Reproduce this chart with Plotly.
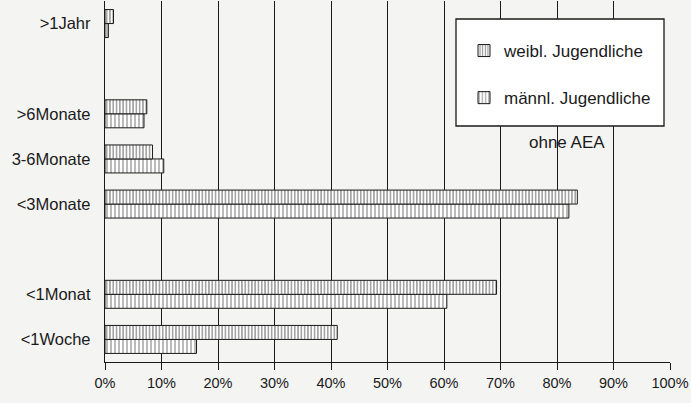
import plotly.graph_objects as go

# Categories listed bottom-to-top (blank slots are empty categories in the original)
categories = ["<1Woche", "<1Monat", " ", "<3Monate", "3-6Monate", ">6Monate", "  ", ">1Jahr"]
weibl = [41.1, 69.3, None, 83.6, 8.4, 7.4, None, 1.5]
maennl = [16.2, 60.5, None, 82.1, 10.4, 6.9, None, 0.6]
x_ticks = [0, 10, 20, 30, 40, 50, 60, 70, 80, 90, 100]
x_labels = [f"{v}%" for v in x_ticks]

FONT = "Liberation Sans, Arial, Helvetica, sans-serif"
INK = "#1a1a1a"
BG = "#f4f4f3"

fig = go.Figure()
fig.add_trace(go.Bar(
    y=categories, x=maennl, orientation="h", name="männl. Jugendliche",
    legendgroup="m", legendrank=2,
    marker=dict(color="white", line=dict(color=INK, width=1),
                pattern=dict(shape="|", fgcolor=INK, bgcolor="white", size=4, solidity=0.3)),
))
fig.add_trace(go.Bar(
    y=categories, x=weibl, orientation="h", name="weibl. Jugendliche",
    legendgroup="w", legendrank=1,
    marker=dict(color="white", line=dict(color=INK, width=1),
                pattern=dict(shape="|", fgcolor=INK, bgcolor="white", size=3.3, solidity=0.4)),
))

fig.update_layout(
    width=691, height=403,
    margin=dict(l=105, r=21, t=1, b=41, autoexpand=False),
    paper_bgcolor=BG, plot_bgcolor=BG,
    font=dict(family=FONT, color=INK, size=15),
    barmode="group", bargap=0.38, bargroupgap=0,
    showlegend=True,
    legend=dict(
        xref="paper", yref="paper", x=(464 - 105) / 565, y=1 - (33 - 1) / 361,
        xanchor="left", yanchor="top",
        bgcolor="rgba(0,0,0,0)", borderwidth=0,
        font=dict(size=17, family=FONT, color=INK),
        tracegroupgap=22, traceorder="grouped",
    ),
    xaxis=dict(
        range=[0, 100], tickvals=x_ticks, ticktext=x_labels, tickangle=0,
        showgrid=True, gridcolor=INK, gridwidth=1.3,
        showline=True, linecolor=INK, linewidth=1.3,
        ticks="outside", ticklen=7, tickcolor=INK, tickwidth=1.3,
        tickfont=dict(size=14.5), zeroline=False, automargin=False,
    ),
    yaxis=dict(
        type="category", categoryorder="array", categoryarray=categories,
        showgrid=False, showline=True, linecolor=INK, linewidth=1.3,
        ticks="", tickfont=dict(size=16.5), ticklabelstandoff=10, automargin=False,
    ),
    shapes=[dict(
        type="rect", xref="paper", yref="paper",
        x0=(456 - 105) / 565, x1=(664 - 105) / 565,
        y0=1 - (126 - 1) / 361, y1=1 - (19 - 1) / 361,
        fillcolor="white", line=dict(color=INK, width=1.3), layer="above",
    )],
    annotations=[dict(
        text="ohne AEA", xref="paper", yref="paper",
        x=(567 - 105) / 565, y=1 - (142 - 1) / 361,
        xanchor="center", yanchor="middle", showarrow=False,
        font=dict(size=17, family=FONT, color=INK),
    )],
)

fig.write_html(
    "out.html",
    config={"displayModeBar": False},
    post_script="document.body.style.margin='0';document.body.style.overflow='hidden';",
)
